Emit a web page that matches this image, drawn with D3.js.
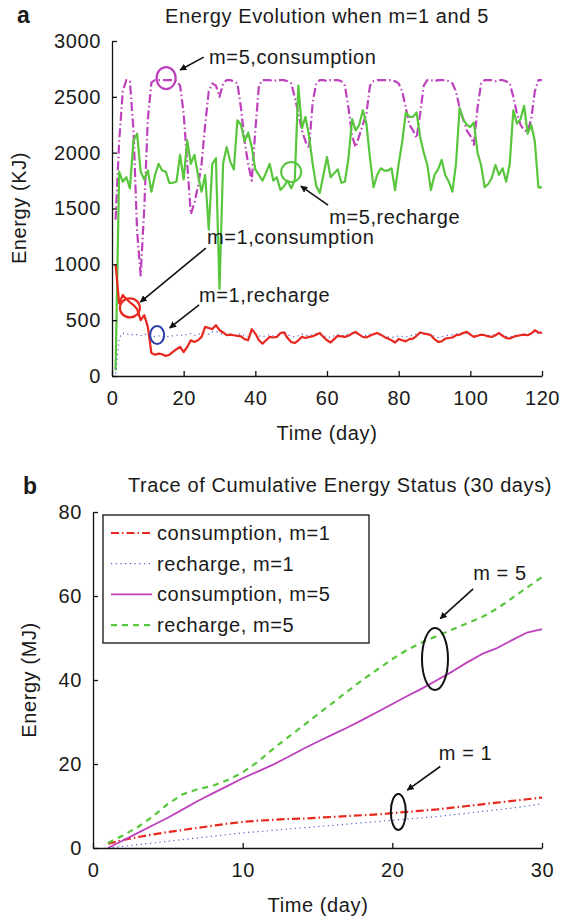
<!DOCTYPE html>
<html>
<head>
<meta charset="utf-8">
<script src="https://cdn.jsdelivr.net/npm/d3@7"></script>
<style>
  body { margin: 0; background: #fff; }
  svg text { font-family: "Liberation Sans", Arial, sans-serif; font-size: 20px; letter-spacing: 0.6px; fill: #1a1a1a; }
</style>
</head>
<body>
<div id="chart"></div>
<script>
// Dane - panel a (energia dzienna, KJ), dni 1..120
const daysA = d3.range(1, 121);
const consM5 = [1400, 2100, 2550, 2650, 2640, 2200, 1300, 900, 1500, 2300,
  2630, 2650, 2650, 2650, 2650, 2650, 2650, 2640, 2600, 2350,
  1900, 1450, 1550, 1700, 1900, 2250, 2550, 2620, 2600, 2500,
  2620, 2650, 2650, 2640, 2620, 2400, 2100, 1900, 1750, 2200,
  2600, 2650, 2650, 2650, 2640, 2650, 2650, 2650, 2640, 2620,
  2500, 2350, 2200, 2100, 2040, 2450, 2620, 2650, 2650, 2640,
  2650, 2650, 2650, 2640, 2600, 2400, 2150, 2050, 2150, 2250,
  2350, 2600, 2640, 2650, 2650, 2650, 2650, 2650, 2640, 2620,
  2550, 2400, 2250, 2200, 2130, 2350, 2600, 2650, 2650, 2640,
  2650, 2650, 2650, 2640, 2620, 2550, 2400, 2300, 2200, 2150,
  2070, 2400, 2620, 2650, 2650, 2650, 2640, 2650, 2650, 2640,
  2620, 2500, 2350, 2250, 2200, 2190, 2300, 2550, 2650, 2650];
const rechM5 = [50, 1830, 1740, 1780, 1680, 2110, 2170, 1830, 1760, 1840,
  1650, 1800, 1900, 1840, 1830, 1730, 1730, 1740, 1980, 1760,
  2110, 1900, 1980, 1800, 1650, 1800, 1310, 1900, 1950, 780,
  1900, 2050, 1920, 1850, 2290, 2250, 2100, 2180, 2050, 1850,
  1800, 1750, 1820, 1900, 1750, 1780, 1665, 1700, 1750, 1680,
  1750, 2600, 2220, 2320, 2150, 1900, 1700, 1640, 1800, 1960,
  1780, 1815, 1850, 1730, 1740, 1950, 2300, 2200, 2250, 2380,
  2260, 1950, 1690, 1800, 1860, 1840, 1840, 1860, 1665, 1900,
  2100, 2360, 2320, 2320, 2360, 2140, 2000, 1890, 1665, 1800,
  1850, 1935, 1800, 1740, 1650, 1900, 2400, 2300, 2250, 2230,
  2270, 2000, 1890, 1690, 1720, 1775, 1890, 1800, 1860, 1740,
  1900, 2380, 2260, 2300, 2420, 2170, 2250, 2100, 1690, 1690];
const consM1 = [1000, 650, 725, 690, 660, 635, 600, 500, 545, 440,
  205, 190, 200, 195, 180, 190, 215, 240, 260, 215,
  260, 320, 305, 320, 350, 440, 430, 420, 455, 410,
  390, 365, 370, 365, 360, 355, 330, 320, 420, 380,
  320, 290, 320, 350, 345, 350, 385, 390, 340, 305,
  295, 320, 350, 340, 350, 355, 370, 385, 350, 320,
  300, 330, 360, 355, 350, 360, 380, 395, 370, 350,
  345, 360, 375, 385, 370, 350, 335, 320, 300, 330,
  320, 310, 330, 335, 360, 390, 380, 375, 365, 330,
  305, 310, 335, 340, 345, 365, 370, 385, 395, 370,
  350, 360, 370, 365, 355, 350, 365, 385, 360, 340,
  335, 350, 360, 365, 370, 365, 380, 410, 390, 385];
const rechM1 = [20, 340, 385, 370, 380, 365, 370, 360, 375, 365,
  350, 355, 360, 345, 355, 350, 360, 365, 370, 360,
  375, 380, 365, 370, 385, 380, 375, 395, 400, 385,
  370, 380, 375, 365, 370, 380, 360, 355, 390, 375,
  360, 350, 365, 370, 360, 365, 375, 400, 370, 355,
  350, 360, 375, 365, 360, 370, 380, 375, 360, 350,
  345, 360, 370, 365, 360, 375, 385, 380, 370, 360,
  365, 375, 380, 375, 365, 355, 350, 345, 350, 360,
  355, 350, 360, 365, 375, 390, 385, 380, 370, 355,
  345, 350, 360, 365, 370, 375, 380, 385, 380, 375,
  360, 365, 370, 370, 365, 360, 375, 380, 365, 355,
  350, 360, 365, 370, 375, 370, 375, 395, 380, 375];
const ticksAx = [0, 20, 40, 60, 80, 100, 120];
const ticksAy = [0, 500, 1000, 1500, 2000, 2500, 3000];

// Dane - panel b (energia skumulowana, MJ), dni 1..30
const daysB = d3.range(1, 31);
const cumConsM1 = [1.0, 1.9, 2.6, 3.2, 3.8, 4.3, 4.8, 5.3, 5.8, 6.2,
  6.5, 6.7, 6.9, 7.0, 7.2, 7.4, 7.6, 7.8, 8.0, 8.3,
  8.6, 8.9, 9.2, 9.6, 10.0, 10.4, 10.8, 11.2, 11.6, 12.0];
const cumRechM1 = [0, 0.4, 0.8, 1.2, 1.6, 2.0, 2.4, 2.8, 3.2, 3.6,
  3.9, 4.2, 4.5, 4.8, 5.1, 5.4, 5.7, 6.0, 6.3, 6.6,
  6.9, 7.2, 7.5, 7.9, 8.3, 8.7, 9.1, 9.5, 10.0, 10.5];
const cumConsM5 = [0, 1.8, 3.6, 5.4, 7.2, 9.2, 11.2, 13.0, 14.8, 16.6,
  18.2, 19.8, 21.6, 23.5, 25.3, 27.0, 28.7, 30.5, 32.4, 34.3,
  36.2, 38.0, 40.0, 42.0, 44.2, 46.2, 47.6, 49.5, 51.3, 52.1];
const cumRechM5 = [1.2, 3.0, 5.0, 7.5, 10.5, 12.8, 14.0, 14.8, 16.2, 18.0,
  20.5, 23.5, 26.3, 29.0, 31.8, 34.5, 37.3, 40.0, 42.5, 45.0,
  47.2, 49.0, 50.5, 52.0, 53.5, 55.0, 57.0, 59.5, 62.0, 64.5];
const ticksBx = [0, 10, 20, 30];
const ticksBy = [0, 20, 40, 60, 80];
const legendLabels = ["consumption, m=1", "recharge, m=1", "consumption, m=5", "recharge, m=5"];

// Style serii
const styles = {
  consM1: { color: "#e8281e", width: 2.2, dash: null },
  rechM1: { color: "#4c5fd0", width: 1.2, dash: "1.2,3.5" },
  consM5: { color: "#bd40bd", width: 2.2, dash: "9,3,1.5,3" },
  rechM5: { color: "#58c63c", width: 2.2, dash: null },
};
const stylesB = [
  { color: "#e8281e", width: 2.2, dash: "8,3,1.5,3" },
  { color: "#4c5fd0", width: 1.2, dash: "1.2,3.5" },
  { color: "#bd40bd", width: 1.8, dash: null },
  { color: "#58c63c", width: 2.2, dash: "6,5" },
];

const W = 565, H = 920;
const svg = d3.select("#chart").append("svg").attr("width", W).attr("height", H);

svg.append("defs").append("marker")
  .attr("id", "arrow")
  .attr("viewBox", "0 0 10 10")
  .attr("refX", 9).attr("refY", 5)
  .attr("markerWidth", 7).attr("markerHeight", 7)
  .attr("markerUnits", "userSpaceOnUse")
  .attr("orient", "auto")
  .append("path").attr("d", "M0,0 L10,5 L0,10 z").attr("fill", "#111");

// Wspólna funkcja rysująca osie
function drawAxes(g, x, y, xt, yt) {
  const [x0, x1] = x.range();
  const [y0, y1] = y.range();
  g.append("g").attr("transform", `translate(0,${y0})`)
    .call(d3.axisBottom(x).tickValues(xt).tickFormat(d3.format("d")).tickSize(-5).tickPadding(15).tickSizeOuter(0))
    .call(a => a.select(".domain").attr("stroke", "#111").attr("stroke-width", 1.3))
    .call(a => a.selectAll(".tick line").attr("stroke", "#111").attr("stroke-width", 1.3))
    .call(a => a.selectAll(".tick text").attr("fill", "#1a1a1a").attr("dy", "0.71em"));
  g.append("g").attr("transform", `translate(${x0},0)`)
    .call(d3.axisLeft(y).tickValues(yt).tickFormat(d3.format("d")).tickSize(-5).tickPadding(11).tickSizeOuter(0))
    .call(a => a.select(".domain").attr("stroke", "#111").attr("stroke-width", 1.3))
    .call(a => a.selectAll(".tick line").attr("stroke", "#111").attr("stroke-width", 1.3))
    .call(a => a.selectAll(".tick text").attr("fill", "#1a1a1a"));
}

function drawLine(g, x, y, xs, ys, st) {
  const line = d3.line().x((d, i) => x(xs[i])).y(d => y(d));
  g.append("path").datum(ys)
    .attr("d", line)
    .attr("fill", "none")
    .attr("stroke", st.color)
    .attr("stroke-width", st.width)
    .attr("stroke-linejoin", "round")
    .attr("stroke-dasharray", st.dash);
}

function arrow(g, x, y, from, to) {
  g.append("line")
    .attr("x1", x(from[0])).attr("y1", y(from[1]))
    .attr("x2", x(to[0])).attr("y2", y(to[1]))
    .attr("stroke", "#111").attr("stroke-width", 1.6)
    .attr("marker-end", "url(#arrow)");
}

function note(g, x, y, pos, txt) {
  g.append("text").attr("x", x(pos[0])).attr("y", y(pos[1])).attr("dy", "0.35em").text(txt);
}

function ring(g, x, y, c, rx, ry, color, sw) {
  g.append("ellipse").attr("cx", x(c[0])).attr("cy", y(c[1]))
    .attr("rx", rx).attr("ry", ry)
    .attr("fill", "none").attr("stroke", color).attr("stroke-width", sw);
}

// ---------- Panel a ----------
const xA = d3.scaleLinear().domain([0, 120]).range([112, 542]);
const yA = d3.scaleLinear().domain([0, 3000]).range([376, 41]);
const gA = svg.append("g");

drawLine(gA, xA, yA, daysA, consM5, styles.consM5);
drawLine(gA, xA, yA, daysA, rechM5, styles.rechM5);
drawLine(gA, xA, yA, daysA, rechM1, styles.rechM1);
drawLine(gA, xA, yA, daysA, consM1, styles.consM1);
drawAxes(gA, xA, yA, ticksAx, ticksAy);

gA.append("text").attr("x", 327).attr("y", 23).attr("text-anchor", "middle").text("Energy Evolution when m=1 and 5");
gA.append("text").attr("x", 17).attr("y", 23).attr("font-weight", "bold").style("font-size", "23px").text("a");
gA.append("text").attr("transform", "translate(26,208) rotate(-90)").attr("text-anchor", "middle").text("Energy (KJ)");
gA.append("text").attr("x", 327).attr("y", 440).attr("text-anchor", "middle").text("Time (day)");

ring(gA, xA, yA, [15.1, 2668], 9.5, 11, styles.consM5.color, 2.2);
arrow(gA, xA, yA, [25.6, 2856], [19, 2740]);
note(gA, xA, yA, [27.1, 2856], "m=5,consumption");

ring(gA, xA, yA, [50, 1826], 10, 10, styles.rechM5.color, 2);
arrow(gA, xA, yA, [60.3, 1530], [52.7, 1700]);
note(gA, xA, yA, [60.6, 1423], "m=5,recharge");

ring(gA, xA, yA, [5, 610], 10, 9.5, styles.consM1.color, 2.2);
arrow(gA, xA, yA, [26.2, 1146], [7.9, 662]);
note(gA, xA, yA, [26.5, 1244], "m=1,consumption");

ring(gA, xA, yA, [12.6, 367], 7, 9, "#2a3caa", 2);
arrow(gA, xA, yA, [24.3, 636], [16.1, 430]);
note(gA, xA, yA, [24.3, 725], "m=1,recharge");

// ---------- Panel b ----------
const xB = d3.scaleLinear().domain([0, 30]).range([93, 542]);
const yB = d3.scaleLinear().domain([0, 80]).range([848, 512]);
const gB = svg.append("g");

const seriesB = [cumConsM1, cumRechM1, cumConsM5, cumRechM5];
seriesB.forEach((s, i) => drawLine(gB, xB, yB, daysB, s, stylesB[i]));
drawAxes(gB, xB, yB, ticksBx, ticksBy);

gB.append("text").attr("x", 340).attr("y", 492).attr("text-anchor", "middle").text("Trace of Cumulative Energy Status (30 days)");
gB.append("text").attr("x", 23).attr("y", 494).attr("font-weight", "bold").style("font-size", "23px").text("b");
gB.append("text").attr("transform", "translate(36,680) rotate(-90)").attr("text-anchor", "middle").text("Energy (MJ)");
gB.append("text").attr("x", 318).attr("y", 912).attr("text-anchor", "middle").text("Time (day)");

// Legenda
const leg = gB.append("g").attr("transform", "translate(103,515)");
leg.append("rect").attr("width", 266).attr("height", 128)
  .attr("fill", "#fff").attr("stroke", "#111").attr("stroke-width", 1.3);
legendLabels.forEach((lab, i) => {
  const yy = 18 + i * 30.7;
  leg.append("line").attr("x1", 8).attr("x2", 49).attr("y1", yy).attr("y2", yy)
    .attr("stroke", stylesB[i].color).attr("stroke-width", stylesB[i].width)
    .attr("stroke-dasharray", stylesB[i].dash);
  leg.append("text").attr("x", 54).attr("y", yy).attr("dy", "0.35em").text(lab);
});

ring(gB, xB, yB, [22.85, 45], 13, 31, "#111", 2);
arrow(gB, xB, yB, [25.4, 61.7], [23.2, 54.6]);
note(gB, xB, yB, [25.4, 65.5], "m = 5");

ring(gB, xB, yB, [20.4, 8.6], 7.5, 18, "#111", 2);
arrow(gB, xB, yB, [23.2, 19.4], [21.0, 13.8]);
note(gB, xB, yB, [23.1, 22.6], "m = 1");
</script>
</body>
</html>
